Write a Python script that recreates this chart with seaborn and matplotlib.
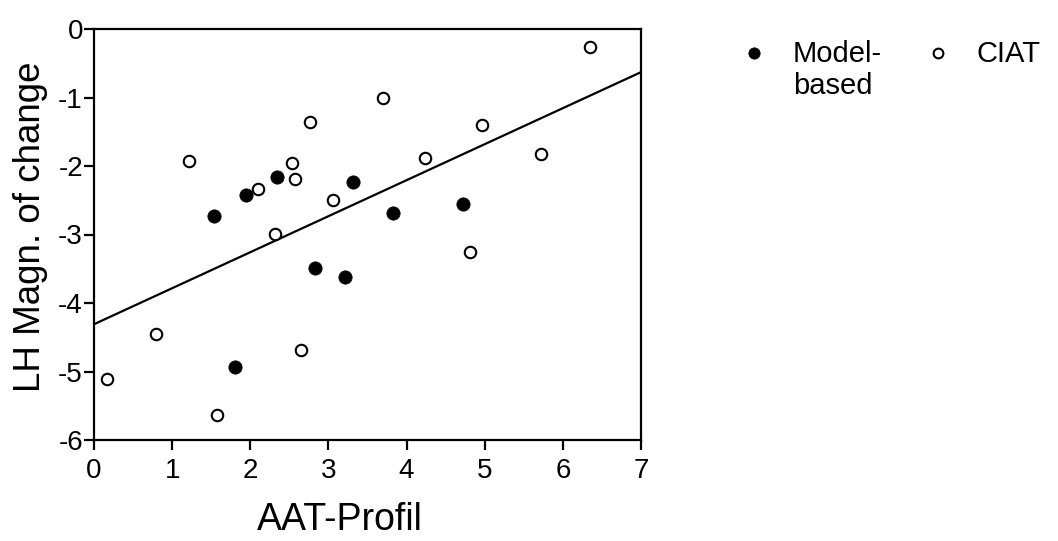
import matplotlib
matplotlib.use("Agg")
import matplotlib.pyplot as plt
import seaborn as sns
import pandas as pd

# Data
model_x = [2.34, 1.95, 1.54, 3.32, 3.83, 4.72, 2.83, 3.21, 1.81]
model_y = [-2.16, -2.43, -2.73, -2.23, -2.69, -2.56, -3.49, -3.62, -4.94]

ciat_x = [6.35, 3.70, 2.77, 4.96, 1.22, 5.72, 4.23, 2.54, 2.57, 2.10, 3.06, 2.31,
          4.81, 0.79, 2.65, 0.17, 1.57]
ciat_y = [-0.27, -1.00, -1.36, -1.40, -1.93, -1.83, -1.89, -1.96, -2.19, -2.33, -2.49, -2.99,
          -3.26, -4.45, -4.68, -5.11, -5.64]

fit_x = [0, 7]
fit_y = [-4.31, -0.63]

x_ticks = [0, 1, 2, 3, 4, 5, 6, 7]
y_ticks = [0, -1, -2, -3, -4, -5, -6]

sns.set_theme(style="ticks")
plt.rcParams['font.family'] = ['Liberation Sans', 'DejaVu Sans']
plt.rcParams['text.color'] = 'black'
plt.rcParams['axes.labelcolor'] = 'black'
plt.rcParams['xtick.color'] = 'black'
plt.rcParams['ytick.color'] = 'black'

fig = plt.figure(figsize=(10.58, 5.41), dpi=100)
ax = fig.add_axes([94/1058, 1-440/541, (641-94)/1058, (440-29)/541])

df_m = pd.DataFrame({"x": model_x, "y": model_y})
df_c = pd.DataFrame({"x": ciat_x, "y": ciat_y})
df_f = pd.DataFrame({"x": fit_x, "y": fit_y})

sns.lineplot(data=df_f, x="x", y="y", ax=ax, color="black", linewidth=1.6, zorder=2)
sns.scatterplot(data=df_m, x="x", y="y", ax=ax, color="black", edgecolor="black",
                s=92, linewidth=0.5, label="Model-\nbased", zorder=3)
sns.scatterplot(data=df_c, x="x", y="y", ax=ax, facecolor="white", edgecolor="black",
                s=68, linewidth=1.5, label="CIAT", zorder=3)

ax.set_xlim(0, 7)
ax.set_ylim(-6, 0)
ax.set_xticks(x_ticks)
ax.set_yticks(y_ticks)
ax.set_yticklabels([str(v) for v in y_ticks])
ax.tick_params(axis="both", labelsize=20, length=7, width=1.6, color="black",
               labelcolor="black", direction="out")
ax.tick_params(axis="y", pad=1)
ax.tick_params(axis="x", pad=6)
for sp in ax.spines.values():
    sp.set_linewidth(1.6)
    sp.set_color("black")
    sp.set_visible(True)

ax.set_xlabel("AAT-Profil", fontsize=27, color="black", labelpad=13)
ax.set_ylabel("LH Magn. of change", fontsize=26.5, color="black", labelpad=7)
ax.xaxis.label.set_x(0.45)
ax.yaxis.label.set_y(0.518)

fs = 21
leg = ax.legend(loc="upper left", bbox_to_anchor=(739/1058, 1-40/541),
                bbox_transform=fig.transFigure, ncol=2, frameon=False,
                fontsize=fs, handletextpad=0.84, columnspacing=1.41,
                markerscale=0.85, borderaxespad=0, borderpad=0,
                handlelength=1.0, handleheight=1.1, labelspacing=0.2)
# align handle with first text line and columns at their tops
outer = leg._legend_handle_box
outer.align = "top"
for col in outer.get_children():
    for row in col.get_children():
        row.align = "top"

fig.savefig("out.png", dpi=100)
